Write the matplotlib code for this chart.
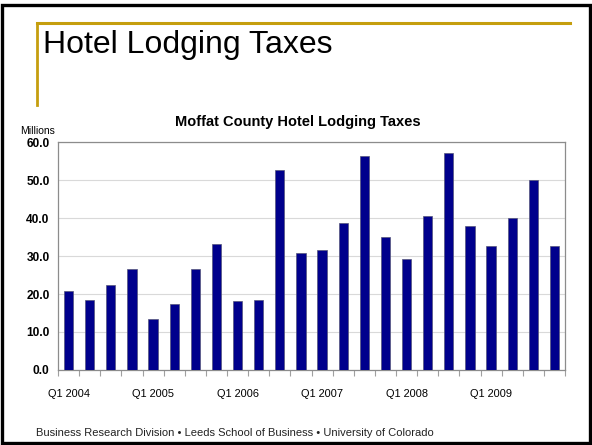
import matplotlib
matplotlib.use("Agg")
import matplotlib.pyplot as plt
from matplotlib.patches import Rectangle
from matplotlib.lines import Line2D
from matplotlib.ticker import FixedLocator, FuncFormatter

quarters = [f"Q{q} {y}" for y in range(2004, 2010) for q in range(1, 5)]
taxes = [20.8, 18.4, 22.3, 26.6, 13.4, 17.4, 26.6, 33.2, 18.2, 18.4, 52.6, 30.7,
         31.7, 38.7, 56.2, 35.1, 29.3, 40.6, 57.2, 37.9, 32.7, 40.1, 50.1, 32.6]
y_ticks = [0, 10, 20, 30, 40, 50, 60]

W, H = 592, 445
fig = plt.figure(figsize=(W / 100, H / 100), dpi=100)
fig.patch.set_facecolor("white")

# slide frame
fig.add_artist(Rectangle((2 / W, 2 / H), (W - 4) / W, (H - 6.5) / H,
                         transform=fig.transFigure, fill=False,
                         edgecolor="black", linewidth=2.4))
gold = "#C59E0E"
fig.add_artist(Line2D([36.5 / W, 570 / W], [1 - 22.5 / H, 1 - 22.5 / H],
                      transform=fig.transFigure, color=gold, linewidth=2.2))
fig.add_artist(Line2D([37 / W, 37 / W], [1 - 22.5 / H, 1 - 105 / H],
                      transform=fig.transFigure, color=gold, linewidth=2.0))

fig.text(43 / W, 1 - 45 / H, "Hotel Lodging Taxes", fontsize=23,
         family="Liberation Sans", va="center", ha="left", color="black")
fig.text(36 / W, 1 - 433 / H,
         "Business Research Division \u2022 Leeds School of Business \u2022 University of Colorado",
         fontsize=8, family="Liberation Sans", va="center", ha="left", color="#222222")

ax = fig.add_axes([58 / W, 1 - 370 / H, (565 - 58) / W, (370 - 142) / H])
x = list(range(len(taxes)))
ax.bar(x, taxes, width=0.44, color="#00008C", edgecolor="#55557a", linewidth=0.5, zorder=3)

ax.set_xlim(-0.5, len(taxes) - 0.5)
ax.set_ylim(0, 60)
ax.yaxis.set_major_locator(FixedLocator(y_ticks))
ax.yaxis.set_major_formatter(FuncFormatter(lambda v, p: f"{v:.1f}"))
ax.grid(axis="y", color="#d9d9d9", linewidth=0.8, zorder=0)

ax.set_xticks(x[::4])
ax.set_xticklabels(quarters[::4], fontsize=7.9, family="Liberation Sans")
ax.set_xticks([i - 0.5 for i in range(len(taxes) + 1)], minor=True)
ax.tick_params(axis="x", which="major", length=0, pad=14)
ax.tick_params(axis="x", which="minor", length=4, color="#a0a0a0", width=0.8)
ax.tick_params(axis="y", length=0, pad=6, labelsize=8.6)
for lab in ax.get_yticklabels():
    lab.set_fontweight("bold")
    lab.set_family("Liberation Sans")

for side in ["left", "right", "top", "bottom"]:
    ax.spines[side].set_color("#8c8c8c")
    ax.spines[side].set_linewidth(0.9)

fig.text(298 / W, 1 - 122 / H, "Moffat County Hotel Lodging Taxes", fontsize=10.5,
         fontweight="bold", family="Liberation Sans", ha="center", va="center")
fig.text(20 / W, 1 - 131 / H, "Millions", fontsize=7.5, family="Liberation Sans",
         ha="left", va="center")

fig.savefig("out.png", dpi=100)
